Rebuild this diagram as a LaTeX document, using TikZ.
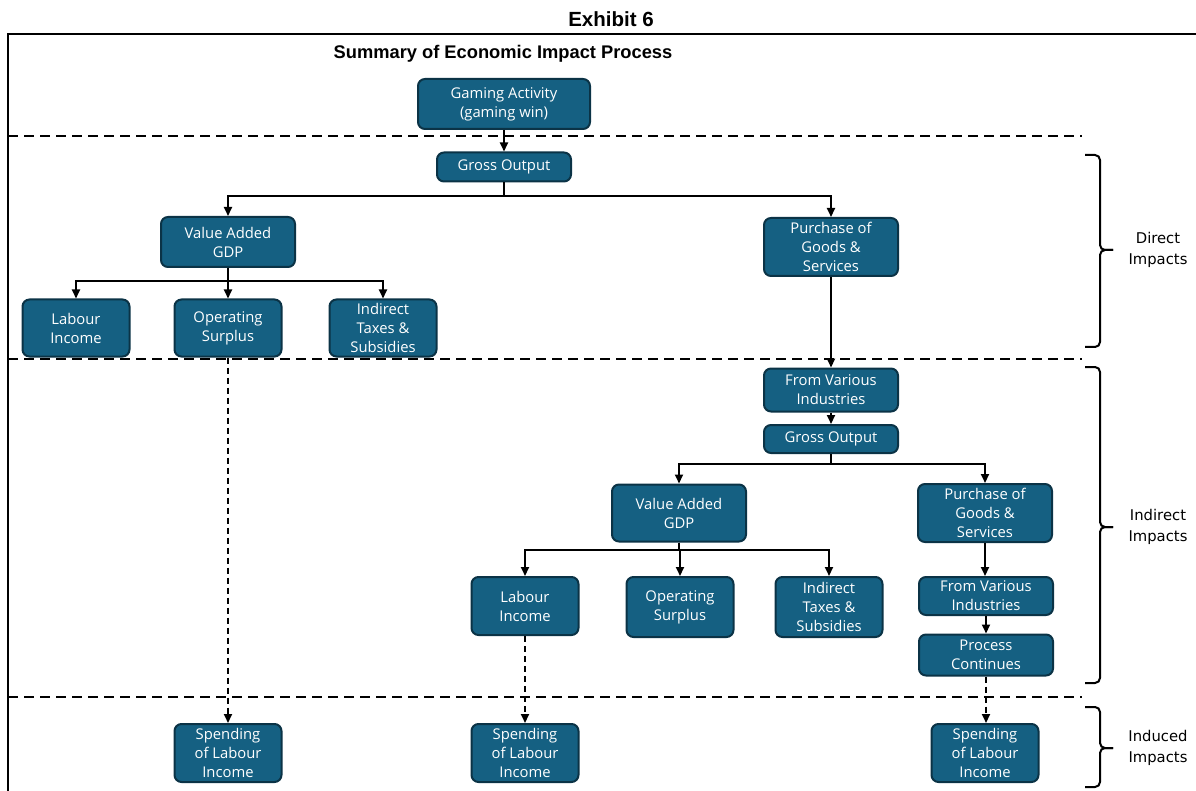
\documentclass[tikz,border=0pt]{standalone}
\usepackage{fontspec}
\usetikzlibrary{arrows.meta}
\newfontfamily\boxfont{Open Sans}
\newfontfamily\headfont{Liberation Sans}
\newfontfamily\sidefont{DejaVu Sans}
\definecolor{boxblue}{HTML}{156082}
\definecolor{boxedge}{HTML}{0B3346}

\begin{document}
\begin{tikzpicture}[x=1pt,y=-1pt,
    blk/.style={draw=boxedge, line width=2pt, fill=boxblue, rounded corners=7pt,
      text=white, align=center, inner sep=0pt,
      font=\boxfont\fontsize{14.8}{19}\selectfont},
    wbox/.style={blk, minimum width=134, minimum height=#1},
    wbox/.default=50,
    nbox/.style={blk, minimum width=107, minimum height=#1},
    nbox/.default=57,
    arr/.style={-{Triangle[length=9pt,width=8pt]}, line width=2pt},
    darr/.style={arr, dash pattern=on 6pt off 4pt},
    sep/.style={line width=2pt, dash pattern=on 10pt off 6pt},
    brc/.style={line width=2pt, rounded corners=5pt},
    side/.style={font=\sidefont\fontsize{14.8}{20.5}\selectfont, align=center}]
  \useasboundingbox (0,0) rectangle (1196,791);

  % frame and titles
  \draw[line width=2.5pt] (8,791) -- (8,34) -- (1196,34);
  \node[font=\headfont\bfseries\fontsize{20.5}{24}\selectfont] (exh) at (611,19) {Exhibit 6};
  \node[font=\headfont\bfseries\fontsize{18.3}{20}\selectfont] (ttl) at (503,54) {Summary of Economic Impact Process};

  % separators
  \draw[sep] (8,136) -- (1082,136);
  \draw[sep] (8,359) -- (1082,359);
  \draw[sep] (8,697) -- (1082,697);

  % direct
  \node[blk, minimum width=172, minimum height=50] (gam) at (504,104) {Gaming Activity\\(gaming win)};
  \node[wbox=29] (go1) at (504,167) {Gross Output};
  \node[wbox=50] (va1) at (228,242) {Value Added\\GDP};
  \node[wbox=58] (pu1) at (831,247) {Purchase of\\Goods \&\\Services};
  \node[nbox] (li1) at (76,328) {Labour\\Income};
  \node[nbox] (os1) at (228,328) {Operating\\Surplus};
  \node[nbox] (it1) at (383,328) {Indirect\\Taxes \&\\Subsidies};

  % indirect
  \node[wbox=43] (fv1) at (831,390) {From Various\\Industries};
  \node[wbox=28] (go2) at (831,439) {Gross Output};
  \node[wbox=57] (va2) at (679,513) {Value Added\\GDP};
  \node[wbox=58] (pu2) at (985,513) {Purchase of\\Goods \&\\Services};
  \node[nbox=58] (li2) at (525,606) {Labour\\Income};
  \node[nbox=60] (os2) at (680,607) {Operating\\Surplus};
  \node[nbox=60] (it2) at (829,607) {Indirect\\Taxes \&\\Subsidies};
  \node[wbox=38] (fv2) at (986,596) {From Various\\Industries};
  \node[wbox=41] (pc) at (986,655) {Process\\Continues};

  % induced
  \node[nbox=58] (sp1) at (228,753) {Spending\\of Labour\\Income};
  \node[nbox=58] (sp2) at (525,753) {Spending\\of Labour\\Income};
  \node[nbox=58] (sp3) at (985,753) {Spending\\of Labour\\Income};

  % connectors
  \draw[arr] (gam) -- (go1);
  \draw[arr] (go1.south) -- ++(0,14) -| (va1.north);
  \draw[arr] (go1.south) -- ++(0,14) -| (pu1.north);
  \foreach \t in {li1,os1,it1}
    \draw[arr] (va1.south) -- ++(0,13) -| (\t.north);
  \draw[arr] (pu1) -- (fv1);
  \draw[arr] (fv1) -- (go2);
  \draw[arr] (go2.south) -- ++(0,10) -| (va2.north);
  \draw[arr] (go2.south) -- ++(0,10) -| (pu2.north);
  \foreach \t in {li2,os2,it2}
    \draw[arr] (va2.south) -- ++(0,7) -| (\t.north);
  \draw[arr] (pu2.south) -- (pu2.south |- fv2.north);
  \draw[arr] (fv2) -- (pc);
  \draw[darr] (os1) -- (sp1);
  \draw[darr] (li2) -- (sp2);
  \draw[darr] (pc.south) -- (pc.south |- sp3.north);

  % braces
  \draw[brc] (1085,155) -- (1100,155) -- (1100,250) -- (1113,250);
  \draw[brc] (1113,250) -- (1100,250) -- (1100,347) -- (1085,347);
  \draw[brc] (1085,367) -- (1100,367) -- (1100,527) -- (1113,527);
  \draw[brc] (1113,527) -- (1100,527) -- (1100,683) -- (1085,683);
  \draw[brc] (1085,707) -- (1100,707) -- (1100,748) -- (1113,748);
  \draw[brc] (1113,748) -- (1100,748) -- (1100,787) -- (1085,787);
  \node[side] (dir) at (1158,250) {Direct\\Impacts};
  \node[side] (ind) at (1158,527) {Indirect\\Impacts};
  \node[side] (inu) at (1158,748) {Induced\\Impacts};
\end{tikzpicture}
\end{document}
